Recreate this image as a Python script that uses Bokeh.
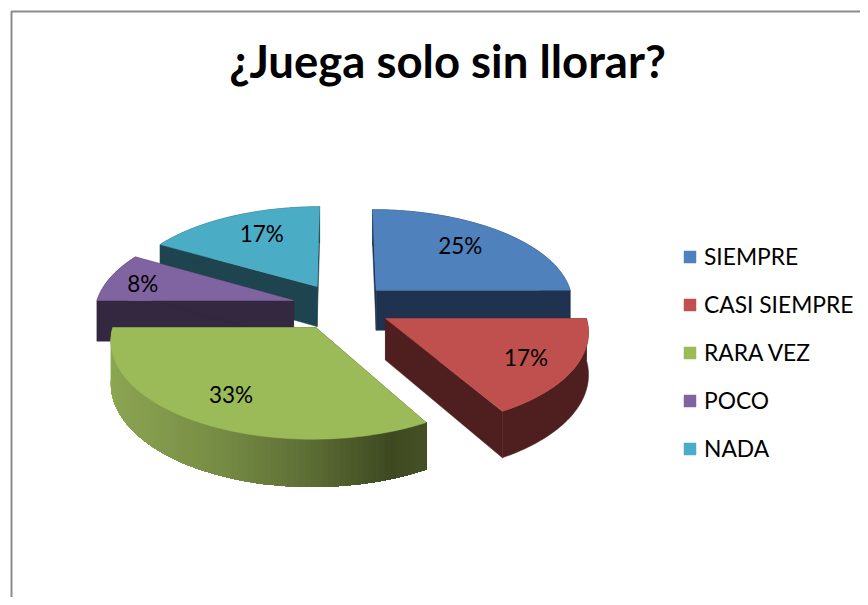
import math
from bokeh.plotting import figure
from bokeh.embed import file_html
from bokeh.resources import INLINE
from bokeh.core.properties import value
from bokeh.models import Range1d, Legend, LegendItem

TITLE = "¿Juega solo sin llorar?"
categories = ["SIEMPRE", "CASI SIEMPRE", "RARA VEZ", "POCO", "NADA"]
percent = [25, 16.67, 33.33, 8.33, 16.67]
percent_labels = ["25%", "17%", "33%", "8%", "17%"]
top_colors = ["#4F81BD", "#C0504D", "#9BBB59", "#8064A2", "#4BACC6"]
side_colors = ["#1F3350", "#4E1F1E", "#3F4A20", "#33283F", "#1E444F"]
label_frac = [0.66, 0.76, 0.75, 0.82, 0.66]
label_nudge_x = [0, 0, 0, 0, 3]
label_nudge_y = [-5, 1, -2, 2, -5]
draw_order = [4, 0, 3, 1, 2]

# projection of the tilted, exploded pie
CX, CY = 341, 306
RADIUS, EXPLODE = 198, 50
TILT, DIST, DEPTH = 0.472, 1700, 41

# horizontal shading of the green rim (position, rgb)
green_rim = [(110, (140, 165, 82)), (220, (118, 140, 68)), (300, (96, 113, 55)),
             (390, (62, 73, 33)), (426, (70, 80, 38))]


def project(X, Y):
    w = 1 / (1 + Y / DIST)
    return CX + X * w, CY - TILT * Y * w, DEPTH * w


def point(mid, ang, r):
    X = EXPLODE * math.sin(mid) + r * math.sin(ang)
    Y = EXPLODE * math.cos(mid) + r * math.cos(ang)
    return project(X, Y)


def green_at(x):
    if x <= green_rim[0][0]:
        c = green_rim[0][1]
    elif x >= green_rim[-1][0]:
        c = green_rim[-1][1]
    else:
        for (x0, c0), (x1, c1) in zip(green_rim, green_rim[1:]):
            if x0 <= x <= x1:
                t = (x - x0) / (x1 - x0)
                c = tuple(a + (b - a) * t for a, b in zip(c0, c1))
                break
    return "#%02x%02x%02x" % tuple(int(round(v)) for v in c)


W, H = 860, 597
p = figure(width=W, height=H, output_backend="svg", toolbar_location=None,
           x_range=Range1d(0, W), y_range=Range1d(H, 0),
           x_axis_type=None, y_axis_type=None, min_border=0, outline_line_color=None)
p.grid.visible = False

p.line([11, 11, W], [H, 11, 11], line_color="#8C8C8C", line_width=2)

total = sum(percent)
starts, acc = [], 0.0
for v in percent:
    starts.append(acc)
    acc += v
tops = {}
for i in draw_order:
    a0 = starts[i] / total * 2 * math.pi
    a1 = (starts[i] + percent[i]) / total * 2 * math.pi
    mid = (a0 + a1) / 2
    n = max(8, int((a1 - a0) * 40))
    angs = [a0 + (a1 - a0) * k / n for k in range(n + 1)]
    arc = [point(mid, a, RADIUS) for a in angs]
    ax, ay, ad = point(mid, a0, 0)
    side = side_colors[i]
    # the two cut faces
    for q in (arc[0], arc[-1]):
        xs = [ax, q[0], q[0], ax]
        ys = [ay, q[1], q[1] + q[2], ay + ad]
        p.patch(xs, ys, fill_color=side, line_color=side, line_width=0.5)
    # the outer rim: shaded rim overlaps from one side so that no seams show
    if i == 2:
        for k in range(n):
            j = n - 1 - k  # arc runs right to left for this slice
            seg = arc[:j + 2]
            col = green_at((arc[j][0] + arc[j + 1][0]) / 2)
            p.patch([q[0] for q in seg] + [q[0] for q in reversed(seg)],
                    [q[1] for q in seg] + [q[1] + q[2] for q in reversed(seg)],
                    fill_color=col, line_color=None)
    else:
        p.patch([q[0] for q in arc] + [q[0] for q in reversed(arc)],
                [q[1] for q in arc] + [q[1] + q[2] for q in reversed(arc)],
                fill_color=side, line_color=side, line_width=0.5)
    # the top
    tops[i] = p.patch([ax] + [q[0] for q in arc], [ay] + [q[1] for q in arc],
                      fill_color=top_colors[i], line_color=top_colors[i], line_width=0.5)

for i in range(len(percent)):
    a0 = starts[i] / total * 2 * math.pi
    a1 = (starts[i] + percent[i]) / total * 2 * math.pi
    mid = (a0 + a1) / 2
    lx, ly, _ = point(mid, mid, RADIUS * label_frac[i])
    p.text([lx + label_nudge_x[i]], [ly + label_nudge_y[i]], text=[percent_labels[i]],
           text_font=value("Lato"), text_font_size="22.5px", text_color="#000000",
           text_align="center", text_baseline="middle")

p.text([447], [60], text=[TITLE], text_font=value("Lato"), text_font_size="45.5px",
       text_font_style="bold", text_color="#000000",
       text_align="center", text_baseline="middle")

legend = Legend(items=[LegendItem(label=c, renderers=[tops[i]]) for i, c in enumerate(categories)],
                location=(682, 135), orientation="vertical",
                border_line_color=None, background_fill_alpha=0, margin=0, padding=0,
                glyph_width=15, glyph_height=15, label_standoff=7, spacing=20,
                label_height=20, label_text_font="Lato", label_text_font_size="22.8px",
                label_text_color="#000000", click_policy="none")
p.add_layout(legend)

open("out.html", "w").write(file_html(p, INLINE))
